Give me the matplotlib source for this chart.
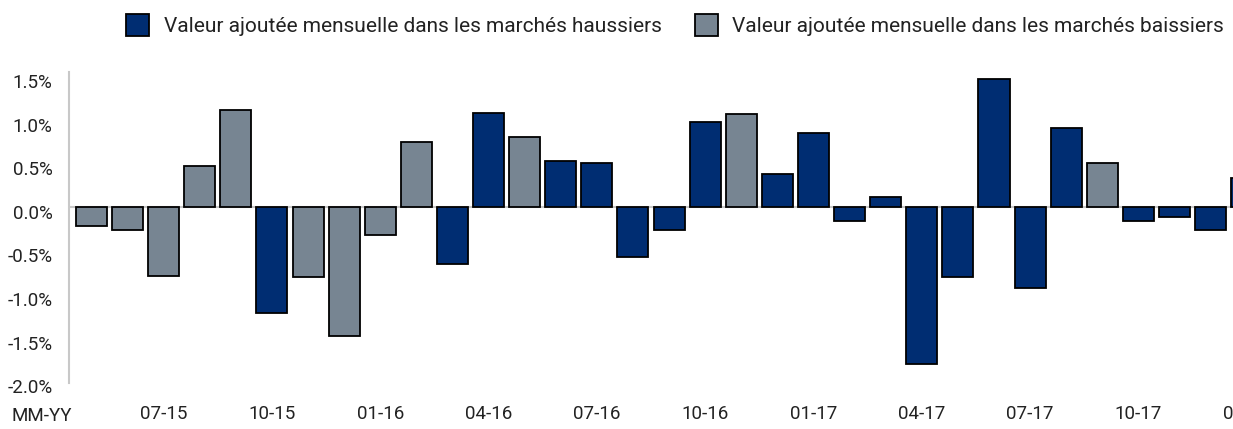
import numpy as np
import matplotlib.pyplot as plt
import matplotlib.transforms as mtransforms
from matplotlib.patches import Patch

plt.rcParams['font.family'] = ['Roboto', 'DejaVu Sans']

# monthly value added, 05-15 .. 01-18 (in %)
months = ["05-15", "06-15", "07-15", "08-15", "09-15", "10-15", "11-15", "12-15",
          "01-16", "02-16", "03-16", "04-16", "05-16", "06-16", "07-16", "08-16",
          "09-16", "10-16", "11-16", "12-16", "01-17", "02-17", "03-17", "04-17",
          "05-17", "06-17", "07-17", "08-17", "09-17", "10-17", "11-17", "12-17",
          "01-18"]
values = [-0.22, -0.27, -0.79, 0.47, 1.11, -1.22, -0.80, -1.48,
          -0.32, 0.74, -0.66, 1.08, 0.80, 0.53, 0.50, -0.58,
          -0.27, 0.97, 1.07, 0.38, 0.85, -0.16, 0.11, -1.80,
          -0.80, 1.46, -0.93, 0.90, 0.50, -0.16, -0.12, -0.27,
          0.33]
# 1 = marché haussier, 0 = marché baissier
regime = [0, 0, 0, 0, 0, 1, 0, 0,
          0, 0, 1, 1, 0, 1, 1, 1,
          1, 1, 0, 1, 1, 1, 1, 1,
          1, 1, 1, 1, 0, 1, 1, 1,
          1]

bull_color = "#002D72"
bear_color = "#778592"
labels = ["Valeur ajoutée mensuelle dans les marchés haussiers",
          "Valeur ajoutée mensuelle dans les marchés baissiers"]

fig = plt.figure(figsize=(12.33, 4.29), dpi=100)
ax = fig.add_axes([0.056, 0.107, 0.9844, 0.725])

x = np.arange(len(values))
colors = [bull_color if r == 1 else bear_color for r in regime]
ax.bar(x, values, width=0.86, color=colors, edgecolor="black", linewidth=1.3, zorder=3)
ax.axhline(0, color="#C8C8C8", linewidth=1.5, zorder=1)

ax.set_xlim(-0.62, 33)
ax.set_ylim(-2.02, 1.545)
ax.set_yticks([1.5, 1.0, 0.5, 0.0, -0.5, -1.0, -1.5, -2.0])
ax.set_yticklabels(["%.1f%%" % v for v in [1.5, 1.0, 0.5, 0.0, -0.5, -1.0, -1.5, -2.0]])
ax.set_xticks(x[2::3])
ax.set_xticklabels(months[2::3])
ax.tick_params(axis="both", length=0, labelsize=13.5, colors="#222222")
ax.tick_params(axis="y", pad=12)
ax.tick_params(axis="x", pad=16)

off = mtransforms.ScaledTranslation(0, -5 / 100, fig.dpi_scale_trans)
for lab in ax.get_yticklabels():
    lab.set_transform(lab.get_transform() + off)

for s in ["top", "right", "bottom"]:
    ax.spines[s].set_visible(False)
ax.spines["left"].set_color("#C8C8C8")
ax.spines["left"].set_linewidth(1.5)

fig.text(0.034, 0.03, "MM-YY", ha="center", va="center", fontsize=13.5, color="#222222")

handles = [Patch(facecolor=bull_color, edgecolor="black", linewidth=1.3),
           Patch(facecolor=bear_color, edgecolor="black", linewidth=1.3)]
fig.legend(handles, labels, ncol=2, loc="upper right", bbox_to_anchor=(1.008, 1.012),
           frameon=False, fontsize=15, handlelength=1.1, handleheight=1.3,
           handletextpad=0.7, columnspacing=1.6, labelcolor="#222222")

fig.savefig("out.png", dpi=100)
